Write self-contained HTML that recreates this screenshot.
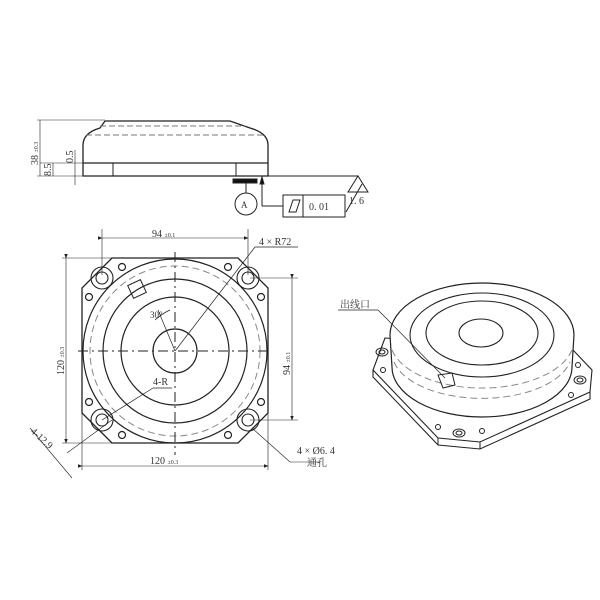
<!DOCTYPE html>
<html><head><meta charset="utf-8"><style>
html,body{margin:0;padding:0;background:#fff}
svg{display:block}
text{font-family:"Liberation Serif","Noto Serif CJK SC",serif;fill:#333}
</style></head><body>
<svg width="600" height="600" viewBox="0 0 600 600" xmlns="http://www.w3.org/2000/svg">
<defs><marker id="ar" markerWidth="8" markerHeight="6" refX="7" refY="3" orient="auto"><path d="M0,0 L8,3 L0,6 z" fill="#222"/></marker></defs>
<g fill="none" stroke="#222" stroke-width="1">
<!-- side view -->
<path d="M105,121 L230,121 L250,128 Q268,133 268,145 L268,176 L83,176 L83,145 Q83,133 100,128 Z" stroke-width="1.3"/>
<line x1="83" y1="163" x2="268" y2="163" stroke-width="1.3"/>
<line x1="113" y1="163" x2="113" y2="176"/><line x1="236" y1="163" x2="236" y2="176"/>
<line x1="100" y1="126" x2="245" y2="126" stroke-dasharray="6,3" stroke="#777"/>
<line x1="86" y1="135" x2="264" y2="135" stroke-dasharray="6,3" stroke="#777"/>
<line x1="268" y1="176" x2="358" y2="176"/>
<path d="M358,176 L348,192 L368,192 Z"/>
<line x1="346" y1="212" x2="362" y2="184"/>
<line x1="37" y1="120" x2="105" y2="120" stroke-width="0.6"/>
<line x1="37" y1="176" x2="83" y2="176" stroke-width="0.6"/>
<line x1="40" y1="163" x2="83" y2="163" stroke-width="0.6"/>
<line x1="40" y1="120" x2="40" y2="176" stroke-width="0.6"/>
<line x1="53" y1="163" x2="53" y2="176" stroke-width="0.6"/>
<line x1="75" y1="150" x2="75" y2="185" stroke-width="0.6"/>
<rect x="233" y="179" width="24" height="4" fill="#111"/>
<line x1="246" y1="183" x2="246" y2="193"/>
<circle cx="246" cy="204" r="11"/>
<line x1="262" y1="178" x2="262" y2="206"/><path d="M260,184 L262,177 L264,184 Z" fill="#111"/>
<line x1="262" y1="206" x2="283" y2="206"/>
<rect x="283" y="195" width="62" height="22"/>
<line x1="303" y1="195" x2="303" y2="217"/>
<path d="M289,212 L293,200 L300,200 L296,212 Z"/>
<!-- front view -->
<path d="M112,258 L238,258 L268,288 L268,413 L238,443 L112,443 L82,413 L82,288 Z" stroke-width="1.3"/>
<circle cx="175" cy="351" r="92" stroke-width="1.2"/>
<circle cx="175" cy="351" r="85" stroke="#888" stroke-dasharray="7,4"/>
<circle cx="175" cy="351" r="72" stroke-width="1.2"/>
<circle cx="175" cy="351" r="54" stroke-width="1.2"/>
<circle cx="175" cy="351" r="22" stroke-width="1.2"/>
<line x1="175" y1="252" x2="175" y2="455" stroke-dasharray="10,4,2,4"/>
<line x1="78" y1="351" x2="272" y2="351" stroke-dasharray="10,4,2,4"/>
<g stroke-width="1.1">
<circle cx="102" cy="278" r="11"/><circle cx="102" cy="278" r="6"/>
<circle cx="248" cy="278" r="11"/><circle cx="248" cy="278" r="6"/>
<circle cx="102" cy="420" r="11"/><circle cx="102" cy="420" r="6"/>
<circle cx="248" cy="420" r="11"/><circle cx="248" cy="420" r="6"/>
</g>
<g stroke-width="1.2">
<circle cx="122" cy="267" r="3.5"/><circle cx="228" cy="267" r="3.5"/>
<circle cx="89" cy="297" r="3.5"/><circle cx="261" cy="297" r="3.5"/>
<circle cx="89" cy="402" r="3.5"/><circle cx="261" cy="402" r="3.5"/>
<circle cx="122" cy="435" r="3.5"/><circle cx="228" cy="435" r="3.5"/>
</g>
<rect x="130" y="282" width="14" height="14" transform="rotate(-25 137 289)"/>
<path d="M155,320 Q163,313 170,310" stroke-width="0.8"/>
<line x1="175" y1="351" x2="158" y2="310" stroke-width="0.7"/>
<line x1="175" y1="351" x2="255" y2="247" stroke-width="0.7"/>
<line x1="255" y1="247" x2="298" y2="247" stroke-width="0.7"/>
<line x1="102" y1="420" x2="153" y2="388" stroke-width="0.7"/>
<line x1="153" y1="388" x2="172" y2="388" stroke-width="0.7"/>
<line x1="102" y1="229" x2="102" y2="275" stroke-width="0.6"/>
<line x1="248" y1="229" x2="248" y2="275" stroke-width="0.6"/>
<line x1="102" y1="238" x2="248" y2="238" stroke-width="0.6" marker-end="url(#ar)" marker-start="url(#ar)"/>
<line x1="62" y1="258" x2="112" y2="258" stroke-width="0.6"/>
<line x1="62" y1="443" x2="112" y2="443" stroke-width="0.6"/>
<line x1="66" y1="258" x2="66" y2="443" stroke-width="0.6" marker-end="url(#ar)" marker-start="url(#ar)"/>
<line x1="250" y1="278" x2="298" y2="278" stroke-width="0.6"/>
<line x1="250" y1="420" x2="298" y2="420" stroke-width="0.6"/>
<line x1="292" y1="278" x2="292" y2="420" stroke-width="0.6" marker-end="url(#ar)" marker-start="url(#ar)"/>
<line x1="82" y1="413" x2="82" y2="470" stroke-width="0.6"/>
<line x1="268" y1="413" x2="268" y2="470" stroke-width="0.6"/>
<line x1="82" y1="466" x2="268" y2="466" stroke-width="0.6" marker-end="url(#ar)" marker-start="url(#ar)"/>
<line x1="67" y1="453" x2="112" y2="420" stroke-width="0.6"/>
<line x1="30" y1="428" x2="72" y2="478" stroke-width="0.6"/>
<line x1="252" y1="428" x2="290" y2="462" stroke-width="0.6"/>
<line x1="290" y1="462" x2="320" y2="462" stroke-width="0.6"/>
<!-- 3D view -->
<path d="M385,338 L573,350 L592,370 L590,392 L480,442 L438,438 L373,370 Z" stroke-width="1.1"/>
<path d="M373,370 L373,377 L438,445 L480,449 L590,399 L590,392" stroke-width="1.1"/>
<line x1="438" y1="438" x2="438" y2="445"/><line x1="480" y1="442" x2="480" y2="449"/>
<path d="M390,335 A92,52 0 0 1 574,335 L572,367 A90,50 0 0 1 392,367 Z" fill="#fff" stroke-width="1.2"/>
<ellipse cx="482" cy="335" rx="72" ry="42" stroke-width="1.1"/>
<ellipse cx="482" cy="333" rx="56" ry="32" stroke-width="1.1"/>
<ellipse cx="481" cy="333" rx="22" ry="14" stroke-width="1.1"/>
<path d="M392,350 A92,48 0 0 0 572,350" stroke="#888" stroke-dasharray="7,4"/>
<path d="M394,362 A90,46 0 0 0 570,362" stroke="#888" stroke-dasharray="7,4"/>
<path d="M438,375 L452,373 L455,385 L443,388 Z"/>
<ellipse cx="382" cy="352" rx="6" ry="4"/><ellipse cx="382" cy="352" rx="3" ry="2"/>
<ellipse cx="580" cy="380" rx="6" ry="4"/><ellipse cx="580" cy="380" rx="3" ry="2"/>
<ellipse cx="459" cy="433" rx="6" ry="4"/><ellipse cx="459" cy="433" rx="3" ry="2"/>
<circle cx="383" cy="370" r="2.5"/><circle cx="578" cy="365" r="2.5"/><circle cx="571" cy="395" r="2.5"/>
<circle cx="438" cy="427" r="2.5"/><circle cx="482" cy="431" r="2.5"/>
<line x1="338" y1="310" x2="378" y2="310" stroke-width="0.7"/>
<line x1="378" y1="310" x2="445" y2="378" stroke-width="0.7"/>
</g>
<g font-size="10">
<text x="38" y="165" transform="rotate(-90 38 165)" font-size="10">38 <tspan font-size="6">±0.3</tspan></text>
<text x="51" y="176" transform="rotate(-90 51 176)">8.5</text>
<text x="73" y="163" transform="rotate(-90 73 163)">0.5</text>
<text x="241" y="208" font-size="9">A</text>
<text x="309" y="210" font-size="10">0. 01</text>
<text x="349" y="204" font-size="10">1. 6</text>
<text x="152" y="237">94 <tspan font-size="6">±0.1</tspan></text>
<text x="259" y="245">4 × R72</text>
<text x="64" y="375" transform="rotate(-90 64 375)">120 <tspan font-size="6">±0.3</tspan></text>
<text x="290" y="375" transform="rotate(-90 290 375)">94 <tspan font-size="6">±0.1</tspan></text>
<text x="150" y="464">120 <tspan font-size="6">±0.3</tspan></text>
<text x="153" y="385">4-R</text>
<text x="150" y="318" font-size="9">30°</text>
<text x="30" y="432" transform="rotate(42 30 432)">4-12.9</text>
<text x="297" y="454">4 × Ø6. 4</text>
<text x="307" y="466" font-size="10">通孔</text>
<text x="340" y="308" font-size="10">出线口</text>
</g>
</svg>
</body></html>
